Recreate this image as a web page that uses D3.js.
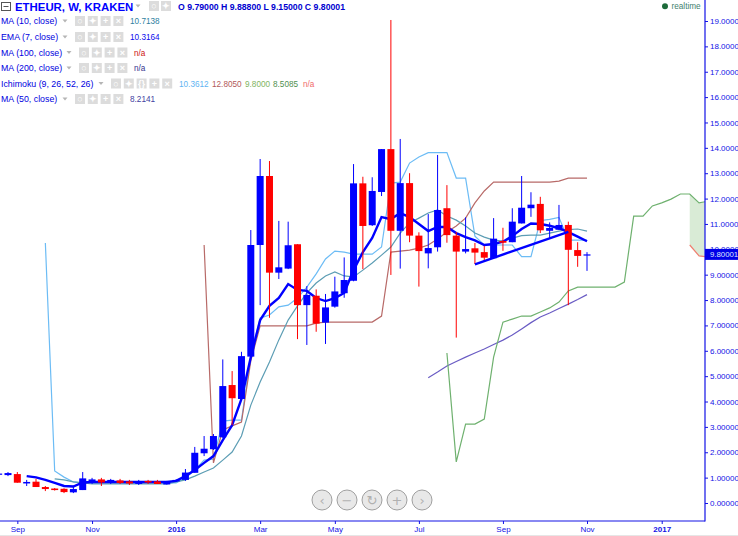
<!DOCTYPE html>
<html>
<head>
<meta charset="utf-8">
<script src="https://cdnjs.cloudflare.com/ajax/libs/d3/7.8.5/d3.min.js"></script>
<style>
html, body { margin: 0; padding: 0; background: #fff; overflow: hidden; }
text { font-family: "Liberation Sans", Arial, sans-serif; }
</style>
</head>
<body>
<div id="chart"></div>
<script>
// weekly candles, index 0 is the week cut off at the left edge
const opens = [1.12,1.10,1.14,0.77,0.84,0.63,0.57,0.56,0.42,0.51,0.85,0.93,0.83,0.89,0.85,0.75,0.87,0.85,0.73,0.85,0.91,1.19,1.96,2.12,2.59,4.65,4.10,5.77,10.17,12.89,9.08,9.24,10.20,7.80,8.17,7.11,7.74,8.27,8.76,12.60,10.95,12.26,13.95,10.73,12.61,10.54,9.84,10.08,11.62,10.54,9.91,10.04,9.89,9.65,10.33,10.28,11.02,11.62,11.79,10.73,10.77,10.96,9.97,9.79];
const highs = [1.18,1.22,1.22,0.91,0.95,0.67,0.59,0.58,0.67,1.22,0.99,0.99,0.95,0.95,0.91,0.91,0.91,0.91,0.87,0.93,1.34,2.21,2.64,2.72,5.66,5.20,5.96,10.76,13.56,13.48,11.12,11.09,10.20,8.55,8.42,8.24,8.92,9.68,13.36,12.86,12.84,13.95,19.04,14.35,13.00,10.67,11.39,13.72,12.53,10.68,11.26,10.25,10.13,11.23,10.85,11.62,12.89,12.25,12.07,11.06,11.75,11.09,10.28,9.888];
const lows = [1.10,1.06,0.80,0.67,0.63,0.47,0.49,0.39,0.39,0.51,0.75,0.67,0.75,0.75,0.71,0.71,0.75,0.75,0.73,0.83,0.87,1.19,1.85,2.09,2.56,3.07,4.06,5.72,7.80,7.30,8.83,9.22,6.46,6.23,6.75,6.27,7.70,8.09,8.74,9.22,10.92,12.10,8.99,9.24,10.28,8.53,9.25,9.91,10.26,6.52,9.84,9.42,9.54,9.65,9.94,10.28,11.02,11.28,10.64,10.45,10.77,7.80,9.31,9.15];
const closes = [1.16,1.18,0.80,0.83,0.63,0.55,0.51,0.43,0.55,0.97,0.93,0.81,0.91,0.79,0.77,0.83,0.81,0.75,0.85,0.91,1.20,1.98,2.14,2.64,4.61,4.13,5.79,10.17,12.89,9.08,9.29,10.16,7.80,8.20,7.07,7.71,8.34,8.79,12.60,10.92,12.30,13.95,10.73,12.61,10.54,9.93,10.05,11.55,10.56,9.91,10.01,9.87,9.67,10.42,10.26,11.09,11.64,11.76,10.75,10.84,10.96,9.98,9.74,9.80];

// indicators, each starts at its own candle index
const ema7Start = 3;
const ema7 = [1.06,1.01,0.91,0.79,0.67,0.65,0.81,0.83,0.83,0.83,0.83,0.83,0.83,0.83,0.83,0.83,0.87,1.06,1.30,1.58,1.85,2.48,3.07,4.10,5.75,7.21,7.77,8.08,8.63,8.40,8.36,8.08,7.96,8.08,8.28,9.18,9.89,10.45,11.27,11.19,11.43,11.27,11.00,10.72,10.88,10.88,10.64,10.48,10.35,10.17,10.21,10.30,10.52,10.80,11.02,11.00,10.93,10.83,10.68,10.50,10.3164];
const ma10Start = 6;
const ma10 = [0.95,0.91,0.83,0.79,0.75,0.75,0.75,0.75,0.75,0.75,0.75,0.75,0.75,0.83,0.91,1.06,1.22,1.38,1.69,2.01,2.64,3.86,4.77,5.56,6.43,7.21,7.77,8.28,8.67,8.95,9.11,8.95,8.91,9.18,9.46,9.77,10.09,10.64,11.04,11.23,11.43,11.55,11.31,11.15,10.92,10.64,10.48,10.36,10.32,10.44,10.54,10.56,10.56,10.64,10.72,10.78,10.80,10.7138];
const tenkanStart = 5;
const tenkan = [10.25,1.26,1.02,0.83,0.79,0.79,0.79,0.79,0.79,0.79,0.79,0.79,0.79,0.79,0.79,0.99,1.30,1.69,1.73,3.23,3.27,3.27,5.83,7.29,7.41,7.73,7.80,8.08,8.51,9.03,9.62,9.93,9.89,9.81,9.81,9.81,10.09,12.61,12.65,13.40,13.64,13.81,13.81,13.81,12.81,12.81,10.52,10.17,10.17,10.17,10.17,9.71,9.71,11.13,11.18,11.26,10.3612,10.3612,10.3612];
const kijunStart = 22;
const kijun = [10.17,1.58,2.88,3.04,3.19,5.60,6.98,6.98,6.98,6.98,6.98,6.98,7.09,7.13,7.13,7.13,7.13,7.13,7.13,7.37,9.89,9.93,9.97,10.05,10.17,10.41,10.68,10.92,11.23,11.83,12.30,12.65,12.65,12.65,12.65,12.65,12.65,12.65,12.69,12.805,12.805,12.805];
const spanAStart = 48;
const spanA = [5.91,1.62,3.11,3.11,3.31,5.75,7.13,7.25,7.37,7.37,7.53,7.69,7.92,8.36,8.51,8.51,8.51,8.51,8.51,8.71,11.31,11.31,11.71,11.83,11.98,12.18,12.18,11.83,11.90];
const spanBStart = 74;
const spanB = [10.17,9.74,9.70];
const ma50Start = 46;
const ma50 = [4.94,5.16,5.40,5.58,5.75,5.91,6.07,6.25,6.42,6.62,6.86,7.11,7.33,7.49,7.67,7.84,8.02,8.2141];
// hand drawn trend line: candle index, price
const trendIdx = [51, 61];
const trendPrice = [9.41, 10.69];

const priceTicks = d3.range(0, 20);
const weekTicks = [2, 10, 19, 28, 36, 45, 54, 63, 71];
const weekLabels = ["Sep", "Nov", "2016", "Mar", "May", "Jul", "Sep", "Nov", "2017"];
const lastPrice = 9.80001;

const legendNames = ["MA (10, close)", "EMA (7, close)", "MA (100, close)", "MA (200, close)", "Ichimoku (9, 26, 52, 26)", "MA (50, close)"];
const legendY = [21, 37, 52.5, 68, 83.5, 99];
const legendIconX = [75, 75, 79, 79, 111, 75];
const legendIconN = [4, 4, 4, 4, 5, 4];
const legendValues = [
    [["10.7138", 130, "#2f7f9f"]],
    [["10.3164", 130, "#0a0aee"]],
    [["n/a", 134, "#cc1111"]],
    [["n/a", 134, "#35358f"]],
    [["10.3612", 179, "#62b4f2"], ["12.8050", 212, "#b25a5a"], ["9.8000", 245, "#7fb45f"], ["8.5085", 273, "#4f8f4f"], ["n/a", 303, "#f06a6a"]],
    [["8.2141", 130, "#3f3f9f"]]
];

const width = 738, height = 536;
const axisX = 705, axisY = 521;
const blue = "#0000ff", red = "#ff0000", axisBlue = "#1212e6";

const svg = d3.select("#chart").append("svg")
    .attr("width", width).attr("height", height)
    .style("display", "block");

const x = d3.scaleLinear().domain([0, 63]).range([-1.34, 587]);
const y = d3.scaleLinear().domain([0, 19]).range([503, 21]);

svg.append("defs").append("clipPath").attr("id", "plot")
    .append("rect").attr("width", axisX).attr("height", axisY);

const plot = svg.append("g").attr("clip-path", "url(#plot)");

function series(values, start) {
    return values.map((v, k) => ({ i: start + k, v: v }));
}

const line = d3.line().x(d => x(d.i)).y(d => y(d.v));

// cloud between the two leading spans
const cloud = d3.area()
    .x(d => x(d.i))
    .y0(d => y(spanB[d.i - spanBStart]))
    .y1(d => y(d.v));
plot.append("path")
    .datum(series(spanA, spanAStart).filter(d => d.i >= spanBStart))
    .attr("d", cloud)
    .attr("fill", "#d9ebd6");

const lines = [
    [tenkan, tenkanStart, "#6cbcf5", 1.2],
    [kijun, kijunStart, "#b86a68", 1.2],
    [ma10, ma10Start, "#5c9db4", 1.2],
    [ma50, ma50Start, "#6a5cc4", 1.2],
    [spanA, spanAStart, "#6fb16f", 1.2],
    [spanB, spanBStart, "#ef7f70", 1.2],
    [ema7, ema7Start, blue, 2.4]
];
lines.forEach(l => {
    plot.append("path")
        .datum(series(l[0], l[1]))
        .attr("d", line)
        .attr("fill", "none")
        .attr("stroke", l[2])
        .attr("stroke-width", l[3]);
});

// candles sit above the indicator lines
const candles = plot.selectAll(".candle")
    .data(opens.map((o, i) => ({ i: i, o: o, h: highs[i], l: lows[i], c: closes[i] })))
    .join("g")
    .attr("class", "candle");

candles.append("line")
    .attr("x1", d => x(d.i)).attr("x2", d => x(d.i))
    .attr("y1", d => y(d.h)).attr("y2", d => y(d.l))
    .attr("stroke", d => d.c >= d.o ? blue : red)
    .attr("stroke-width", 1);

candles.append("rect")
    .attr("x", d => x(d.i) - 3.5)
    .attr("width", 7)
    .attr("y", d => y(Math.max(d.o, d.c)))
    .attr("height", d => Math.max(1.2, Math.abs(y(d.o) - y(d.c))))
    .attr("fill", d => d.c >= d.o ? blue : red);

plot.append("line")
    .attr("x1", x(trendIdx[0])).attr("y1", y(trendPrice[0]))
    .attr("x2", x(trendIdx[1])).attr("y2", y(trendPrice[1]))
    .attr("stroke", blue).attr("stroke-width", 2.4);

// axes
const yAxis = d3.axisRight(y).tickValues(priceTicks).tickFormat(d3.format(".5f")).tickSize(3).tickPadding(2);
const yG = svg.append("g").attr("transform", `translate(${axisX},0)`).call(yAxis);
const xAxis = d3.axisBottom(x).tickValues(weekTicks).tickFormat((d, i) => weekLabels[i]).tickSize(3).tickPadding(2);
const xG = svg.append("g").attr("transform", `translate(0,${axisY})`).call(xAxis);

[yG, xG].forEach(g => {
    g.select(".domain").remove();
    g.selectAll("line").attr("stroke", axisBlue);
    g.selectAll("text").attr("fill", axisBlue).style("font-size", "8px");
});
xG.selectAll("text")
    .style("font-weight", (d, i) => (weekLabels[i] === "2016" || weekLabels[i] === "2017") ? "bold" : "normal");

svg.append("line").attr("x1", axisX).attr("x2", axisX).attr("y1", 0).attr("y2", axisY + 0.5)
    .attr("stroke", axisBlue).attr("stroke-width", 1.2);
svg.append("line").attr("x1", 0).attr("x2", axisX).attr("y1", axisY).attr("y2", axisY)
    .attr("stroke", axisBlue).attr("stroke-width", 1.2);
svg.append("rect").attr("x", 0).attr("y", 535).attr("width", width).attr("height", 1).attr("fill", "#e6e6e6");

// current price tag
svg.append("rect").attr("x", axisX).attr("y", y(lastPrice) - 5.5).attr("width", width - axisX).attr("height", 11).attr("fill", "#0000e8");
svg.append("text").attr("x", axisX + 5).attr("y", y(lastPrice) + 3)
    .attr("fill", "#dfe6ff").style("font-size", "7.8px").text(d3.format(".5f")(lastPrice));

// realtime marker
svg.append("circle").attr("cx", 665).attr("cy", 6.3).attr("r", 3).attr("fill", "#1d6b3a");
svg.append("text").attr("x", 671.5).attr("y", 9).attr("fill", "#3f7f6f").style("font-size", "8.2px").text("realtime");

// legend
function iconBox(g, bx, by, glyph) {
    g.append("rect").attr("x", bx).attr("y", by - 5).attr("width", 10).attr("height", 10).attr("fill", "#dcdcdc");
    g.append("text").attr("x", bx + 5).attr("y", by + 3.2).attr("text-anchor", "middle")
        .attr("fill", "#fff").style("font-size", "9px").style("font-weight", "bold").text(glyph);
}
function caret(g, cx, cy) {
    g.append("path").attr("d", `M${cx - 2.5},${cy - 1.5}L${cx + 2.5},${cy - 1.5}L${cx},${cy + 1.5}Z`).attr("fill", "#b5b5b5");
}
const legend = svg.append("g");

legend.append("rect").attr("x", 1.5).attr("y", 2.5).attr("width", 9).attr("height", 8).attr("fill", "#fff").attr("stroke", "#555");
legend.append("line").attr("x1", 3.5).attr("x2", 8.5).attr("y1", 6.5).attr("y2", 6.5).attr("stroke", "#555");
legend.append("text").attr("x", 15).attr("y", 11).attr("fill", blue)
    .style("font-size", "11.4px").style("font-weight", "bold").text("ETHEUR, W, KRAKEN");
caret(legend, 138, 6);
iconBox(legend, 149, 6, "○");
iconBox(legend, 161, 6, "✦");
legend.append("text").attr("x", 178).attr("y", 10).attr("fill", "#0000d0")
    .style("font-size", "8.7px").style("font-weight", "bold").text("O 9.79000 H 9.88800 L 9.15000 C 9.80001");

const iconGlyphs = ["○", "✦", "+", "×"];
const ichimokuGlyphs = ["○", "✦", "{}", "+", "×"];
legendNames.forEach((name, r) => {
    const ry = legendY[r];
    const g = legend.append("g");
    g.append("text").attr("x", 1).attr("y", ry + 3).attr("fill", "#0000e0")
        .style("font-size", "8.8px").text(name);
    caret(g, legendIconX[r] - 10, ry);
    const glyphs = legendIconN[r] === 5 ? ichimokuGlyphs : iconGlyphs;
    glyphs.forEach((gl, k) => iconBox(g, legendIconX[r] + k * 12.8, ry, gl));
    legendValues[r].forEach(v => {
        g.append("text").attr("x", v[1]).attr("y", ry + 3).attr("fill", v[2])
            .style("font-size", "8.2px").text(v[0]);
    });
});

// zoom buttons under the plot
const buttonX = [322, 347, 372, 397, 422];
const buttonGlyph = ["‹", "−", "↻", "+", "›"];
const buttons = svg.selectAll(".btn").data(buttonX).join("g").attr("transform", d => `translate(${d},500)`);
buttons.append("circle").attr("r", 10).attr("fill", "#e8e8e8").attr("stroke", "#a0a0a0").attr("stroke-width", 1);
buttons.append("text").attr("text-anchor", "middle").attr("y", 4.5)
    .attr("fill", "#b0b0b0").style("font-size", "13px").style("font-family", "DejaVu Sans")
    .text((d, i) => buttonGlyph[i]);
</script>
</body>
</html>
